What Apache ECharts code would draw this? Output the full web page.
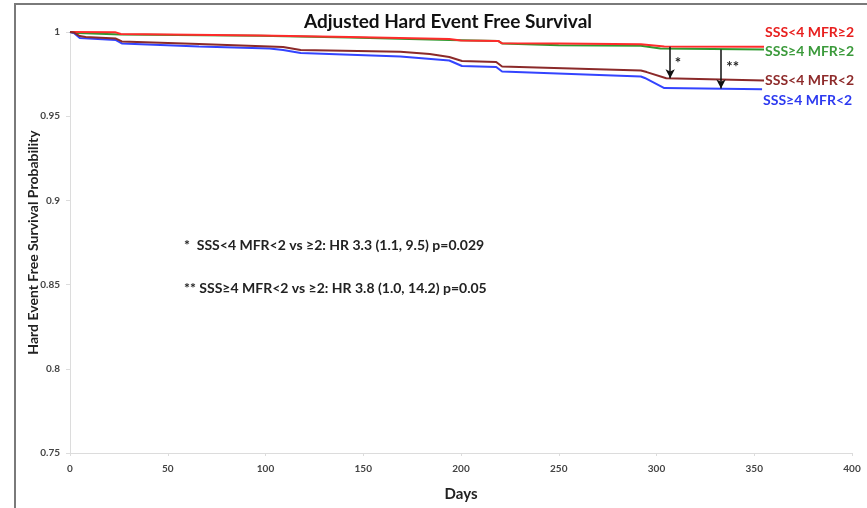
<!DOCTYPE html>
<html>
<head>
<meta charset="utf-8">
<script src="https://cdn.jsdelivr.net/npm/echarts@6/dist/echarts.min.js"></script>
<style>
  html, body { margin: 0; padding: 0; background: #ffffff; }
  #chart { width: 867px; height: 508px; }
</style>
</head>
<body>
<div id="chart"></div>
<script>
// Adjusted Kaplan-Meier style curves, hard event free survival by SSS / MFR group
const FONT = 'Lato, "Open Sans", "DejaVu Sans", sans-serif';

const seriesNames = ['SSS<4 MFR≥2', 'SSS≥4 MFR≥2', 'SSS<4 MFR<2', 'SSS≥4 MFR<2'];
const seriesColors = ['#ff2b2b', '#2f9a2f', '#8b2a2a', '#3344ff'];
const labelColors = ['#e8201f', '#3b9a3b', '#8e2b2b', '#2d3af0'];

const daysLowSssHighMfr = [0, 23, 26, 97, 143, 194, 200, 219, 221, 250, 292, 304, 355];
const survLowSssHighMfr = [1.0, 0.9999, 0.9988, 0.9979, 0.9970, 0.9958, 0.9950, 0.9947, 0.9933, 0.9932, 0.9927, 0.9914, 0.9912];

const daysHighSssHighMfr = [0, 4, 26, 97, 143, 194, 219, 221, 250, 292, 302, 355];
const survHighSssHighMfr = [1.0, 0.9994, 0.9985, 0.9977, 0.9968, 0.9953, 0.9947, 0.9932, 0.9921, 0.9918, 0.9902, 0.9896];

const daysLowSssLowMfr = [0, 2, 5, 8, 23.5, 26.5, 66, 102, 109, 118, 169, 184, 194, 200.5, 218, 221, 292, 295, 305, 355];
const survLowSssLowMfr = [1.0, 0.9997, 0.9976, 0.9970, 0.9961, 0.9944, 0.9929, 0.9914, 0.9911, 0.9893, 0.9883, 0.9869, 0.9852, 0.9828, 0.9822, 0.9795, 0.9771, 0.9762, 0.9725, 0.9712];

const daysHighSssLowMfr = [0, 2, 5, 23.5, 26.5, 66, 102, 109, 118, 169, 194, 200.5, 218, 221, 292, 294, 304, 354];
const survHighSssLowMfr = [1.0, 0.9994, 0.9964, 0.9952, 0.9932, 0.9914, 0.9902, 0.9893, 0.9875, 0.9855, 0.9831, 0.9798, 0.9792, 0.9765, 0.9736, 0.9727, 0.9667, 0.9660];

// Comparison arrows (day, from, to) and their star markers
const arrowDays = [307, 333];
const arrowFrom = [0.9912, 0.9896];
const arrowTo = [0.9725, 0.9664];
const starText = ['*', '**'];
const starDays = [311, 339];
const starVals = [0.9814, 0.9792];

const hrNotes = [
  '*  SSS<4 MFR<2 vs ≥2: HR 3.3 (1.1, 9.5) p=0.029',
  '** SSS≥4 MFR<2 vs ≥2: HR 3.8 (1.0, 14.2) p=0.05'
];

const xTicks = { min: 0, max: 400, interval: 50 };
const yTicks = { min: 0.75, max: 1, interval: 0.05 };

const allDays = [daysLowSssHighMfr, daysHighSssHighMfr, daysLowSssLowMfr, daysHighSssLowMfr];
const allSurv = [survLowSssHighMfr, survHighSssHighMfr, survLowSssLowMfr, survHighSssLowMfr];
const endLabelOffsets = [[0, -14], [0, 2], [0, 0], [0, 11]];

const zip = (a, b) => a.map((d, i) => [d, b[i]]);

const lineSeries = seriesNames.map((name, i) => ({
  name: name,
  type: 'line',
  data: zip(allDays[i], allSurv[i]),
  showSymbol: false,
  symbol: 'none',
  z: [3, 2, 3, 2][i],
  lineStyle: { color: seriesColors[i], width: 2 },
  endLabel: {
    show: true,
    formatter: name,
    color: labelColors[i],
    fontFamily: FONT,
    fontWeight: 'bold',
    fontSize: 14,
    distance: 1,
    offset: endLabelOffsets[i]
  }
}));

// Invisible carrier series for arrows and star markers
const annotationSeries = {
  type: 'line',
  data: [],
  silent: true,
  markLine: {
    silent: true,
    symbol: ['none', 'arrow'],
    symbolSize: [7, 9],
    lineStyle: { color: '#111', width: 1.5, type: 'solid' },
    label: { show: false },
    data: arrowDays.map((d, i) => [
      { coord: [d, arrowFrom[i]] },
      { coord: [d, arrowTo[i]] }
    ])
  },
  markPoint: {
    silent: true,
    symbol: 'circle',
    symbolSize: 1,
    itemStyle: { color: 'rgba(0,0,0,0)' },
    label: {
      show: true,
      position: 'inside',
      color: '#222',
      fontFamily: FONT,
      fontWeight: 'bold',
      fontSize: 15
    },
    data: starDays.map((d, i) => ({ coord: [d, starVals[i]], label: { formatter: starText[i] } }))
  }
};

const chart = echarts.init(document.getElementById('chart'), null, { renderer: 'canvas' });

chart.setOption({
  animation: false,
  backgroundColor: '#ffffff',
  title: {
    text: 'Adjusted Hard Event Free Survival',
    left: 443,
    textAlign: 'center',
    top: 7,
    textStyle: { fontFamily: FONT, fontWeight: 'bold', fontSize: 19, color: '#111' }
  },
  grid: { left: 70, right: 15, top: 32, bottom: 55, containLabel: false },
  xAxis: {
    type: 'value',
    min: xTicks.min, max: xTicks.max, interval: xTicks.interval,
    name: 'Days',
    nameLocation: 'middle',
    nameGap: 34,
    nameTextStyle: { fontFamily: FONT, fontWeight: 'bold', fontSize: 15, color: '#222' },
    axisLine: { show: true, lineStyle: { color: '#dcdcdc', width: 1 } },
    axisTick: { show: true, length: 3, lineStyle: { color: '#dcdcdc' } },
    axisLabel: { margin: 11, fontFamily: FONT, fontWeight: 'bold', fontSize: 10, color: '#444' },
    splitLine: { show: false }
  },
  yAxis: {
    type: 'value',
    min: yTicks.min, max: yTicks.max, interval: yTicks.interval,
    name: 'Hard Event Free Survival Probability',
    nameLocation: 'middle',
    nameGap: 30,
    nameMoveOverlap: false,
    nameRotate: 90,
    nameTextStyle: { fontFamily: FONT, fontWeight: 'bold', fontSize: 14, color: '#222' },
    axisLine: { show: true, lineStyle: { color: '#dcdcdc', width: 1 } },
    axisTick: { show: true, length: 4, lineStyle: { color: '#dcdcdc' } },
    axisLabel: { margin: 10, fontFamily: FONT, fontWeight: 'bold', fontSize: 10, color: '#444' },
    splitLine: { show: false }
  },
  graphic: [
    {
      type: 'rect',
      shape: { x: 15, y: 4, width: 900, height: 560 },
      style: { fill: 'none', stroke: '#7a7a7a', lineWidth: 2 },
      silent: true,
      z: 0
    },
    {
      type: 'text',
      left: 184, top: 238,
      style: { text: hrNotes[0], fontFamily: FONT, fontWeight: 'bold', fontSize: 14, fill: '#222' }
    },
    {
      type: 'text',
      left: 184, top: 281,
      style: { text: hrNotes[1], fontFamily: FONT, fontWeight: 'bold', fontSize: 14, fill: '#222' }
    }
  ],
  series: lineSeries.concat([annotationSeries])
});
</script>
</body>
</html>
